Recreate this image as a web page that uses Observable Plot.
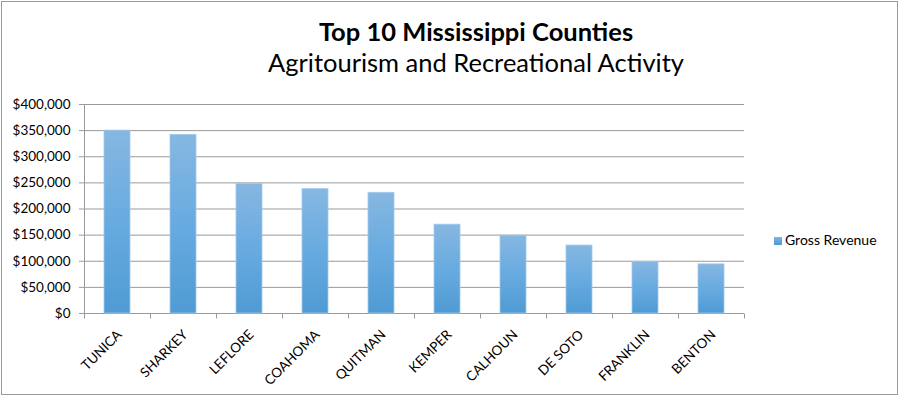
<!DOCTYPE html>
<html>
<head>
<meta charset="utf-8">
<script src="https://cdn.jsdelivr.net/npm/d3@7"></script>
<script src="https://cdn.jsdelivr.net/npm/@observablehq/plot@0.6"></script>
<style>
  html, body { margin: 0; padding: 0; background: #fff; }
  #wrap { position: relative; width: 900px; height: 397px; overflow: hidden; font-family: Lato, "Open Sans", sans-serif; color: #000; }
  #frame { position: absolute; left: 1px; top: 1px; width: 895px; height: 392px; border: 1px solid #9a9a9a; box-sizing: content-box; pointer-events: none; }
  #chart { position: absolute; left: 0; top: 0; }
  .title { position: absolute; left: 226px; width: 500px; text-align: center; line-height: 1; white-space: nowrap; }
  #t1 { top: 19px; font-size: 25.5px; font-weight: bold; }
  #t2 { top: 50px; font-size: 25.5px; }
  #legend { position: absolute; left: 774px; top: 233px; font-size: 14px; line-height: 14px; white-space: nowrap; }
  #legend .sw { display: inline-block; width: 8px; height: 8px; background: linear-gradient(#7fb3e0, #4f9bd4); margin-right: 3px; vertical-align: 0px; }
</style>
</head>
<body>
<div id="wrap">
  <div id="chart"></div>
  <div class="title" id="t1">Top 10 Mississippi Counties</div>
  <div class="title" id="t2">Agritourism and Recreational Activity</div>
  <div id="legend"><span class="sw"></span>Gross Revenue</div>
  <div id="frame"></div>
</div>
<script>
const counties = ["TUNICA", "SHARKEY", "LEFLORE", "COAHOMA", "QUITMAN", "KEMPER", "CALHOUN", "DE SOTO", "FRANKLIN", "BENTON"];
const grossRevenue = [350000, 342000, 248000, 238000, 231000, 170000, 149000, 130000, 99000, 94000];
const yTicks = [0, 50000, 100000, 150000, 200000, 250000, 300000, 350000, 400000];

const table = counties.map((c, i) => ({county: c, revenue: grossRevenue[i]}));
const money = d => "$" + d3.format(",")(d);

// gradient defs + axis lines + category boundary ticks, all derived from the scales
function decorations(index, scales, values, dimensions) {
  const g = d3.create("svg:g");
  const defs = g.append("defs");
  const lg = defs.append("linearGradient").attr("id", "barGrad")
    .attr("x1", 0).attr("y1", 0).attr("x2", 0).attr("y2", 1);
  lg.append("stop").attr("offset", "0%").attr("stop-color", "#86b7e2");
  lg.append("stop").attr("offset", "50%").attr("stop-color", "#68abe0");
  lg.append("stop").attr("offset", "100%").attr("stop-color", "#4f9bd4");
  const x = scales.x, y = scales.y;
  const step = x.step ? x.step() : (x(counties[1]) - x(counties[0]));
  const bw = x.bandwidth ? x.bandwidth() : step * 0.4;
  const y0 = Math.round(y(0)) + 0.5;
  const yTop = Math.round(y(yTicks[yTicks.length - 1])) + 0.5;
  const bounds = counties.map(c => x(c) - (step - bw) / 2);
  bounds.push(x(counties[counties.length - 1]) + bw + (step - bw) / 2);
  const left = Math.round(bounds[0]) + 0.5;
  g.append("line").attr("x1", left).attr("x2", left).attr("y1", yTop).attr("y2", y0)
    .attr("stroke", "#9a9a9a");
  for (const b of bounds) {
    const bx = Math.round(b) + 0.5;
    g.append("line").attr("x1", bx).attr("x2", bx).attr("y1", y0).attr("y2", y0 + 5)
      .attr("stroke", "#9a9a9a");
  }
  return g.node();
}

const chart = Plot.plot({
  width: 900,
  height: 397,
  marginLeft: 84,
  marginRight: 156,
  marginTop: 104,
  marginBottom: 84,
  style: {fontFamily: "Lato, 'Open Sans', sans-serif", fontSize: "13.5px", color: "#000", background: "transparent"},
  x: {type: "band", domain: counties, paddingInner: 0.6, paddingOuter: 0.3, axis: null, label: null},
  y: {domain: [0, 400000], axis: null, label: null},
  marks: [
    Plot.ruleY(yTicks, {stroke: "#9a9a9a", strokeWidth: 1, strokeOpacity: 1}),
    decorations,
    Plot.axisY({ticks: yTicks, tickFormat: money, tickSize: 5, tickPadding: 9, stroke: "#9a9a9a", strokeOpacity: 1, fill: "#000", fontSize: 13.5, label: null}),
    Plot.barY(table, {x: "county", y: "revenue", fill: "url(#barGrad)", stroke: "#a3c9ec", strokeWidth: 0.8}),
    Plot.text(counties, {x: d => d, y: () => 0, text: d => d, rotate: -45, textAnchor: "end", lineAnchor: "bottom", dx: 5, dy: 22, fontSize: 13.5, fill: "#000"})
  ]
});
document.getElementById("chart").appendChild(chart);
</script>
</body>
</html>
